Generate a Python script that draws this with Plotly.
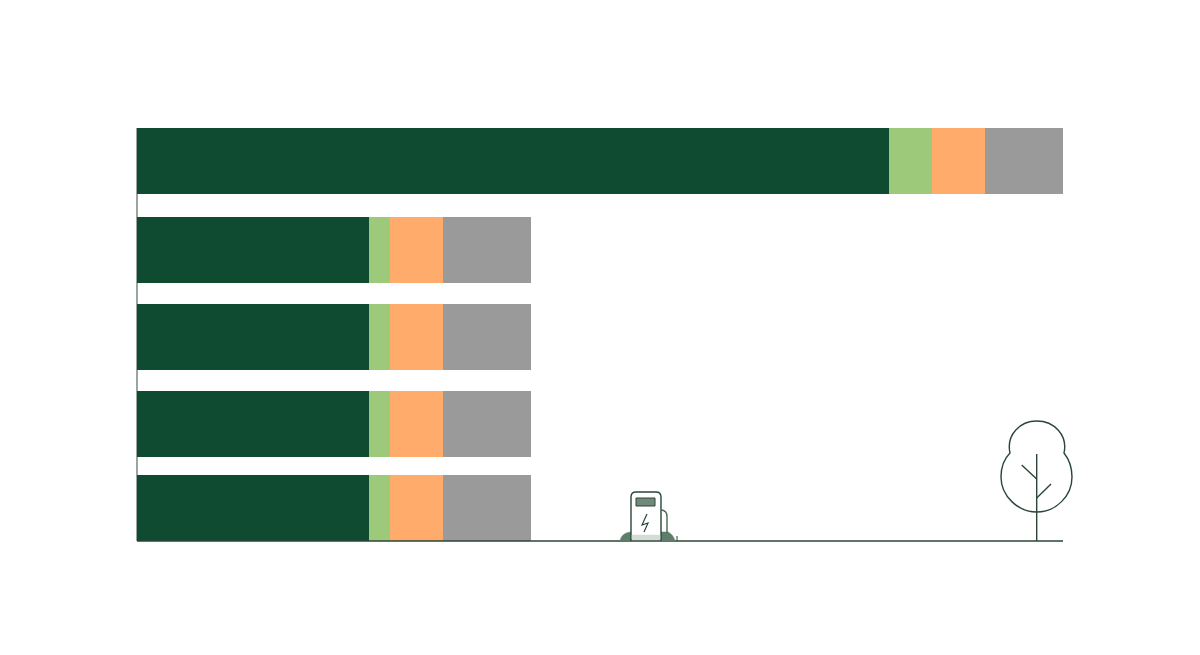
import plotly.graph_objects as go

# Data (arbitrary units, one row per bar)
row_position = [161, 250, 337, 424, 508]
dark_values = [752, 232, 232, 232, 232]
green_values = [43, 21, 21, 21, 21]
orange_values = [53, 53, 53, 53, 53]
gray_values = [78, 88, 88, 88, 88]

series = [
    ("Dark", dark_values, "#0E4B30"),
    ("Green", green_values, "#9CC97A"),
    ("Orange", orange_values, "#FFAB6B"),
    ("Gray", gray_values, "#9A9A9A"),
]

ORIGIN = 137               # page pixel of the value zero
PLOT_L, PLOT_R, T, B = 130, 1100, 100, 560
LINE = "#2A4637"


def path(cmds):
    out = []
    for c in cmds:
        if isinstance(c, str):
            out.append(c)
        else:
            out.append(f"{c[0] - ORIGIN},{c[1]}")
    return " ".join(out)


fig = go.Figure()
for name, vals, col in series:
    fig.add_trace(go.Bar(
        y=row_position, x=vals, name=name, orientation="h",
        width=66, marker=dict(color=col, line=dict(width=0)),
        showlegend=False, hoverinfo="x",
    ))

shapes = []


def add(cmds, color=LINE, width=1.5, fill=None, layer="above"):
    shapes.append(dict(
        type="path", xref="x", yref="y", path=path(cmds), layer=layer,
        line=dict(color=color, width=width),
        fillcolor=fill if fill else "rgba(0,0,0,0)",
    ))


# left axis and ground
add(["M", (137, 128), "L", (137, 541)], color="#59685F", width=1.2, layer="below")
add(["M", (137, 541), "L", (1063, 541)], color=LINE, width=1.4)

# charger: mound
add(["M", (620, 541), "C", (621, 535), (626, 532), (632, 532), "L", (668, 532),
     "C", (672, 534), (674, 537), (675, 541), "Z"], color="#5F7D6B", width=0.5, fill="#5F7D6B")
# charger: body
add(["M", (631, 540), "L", (631, 497), "C", (631, 494), (633, 492), (636, 492), "L", (656, 492),
     "C", (659, 492), (661, 494), (661, 497), "L", (661, 540), "Z"], width=1.4, fill="#FFFFFF")
add(["M", (632, 535), "L", (660, 535), "L", (660, 540), "L", (632, 540), "Z"],
    color="#D5DBD6", width=0.5, fill="#D5DBD6")
# charger: screen
add(["M", (636, 498), "L", (655, 498), "L", (655, 506), "L", (636, 506), "Z"],
    width=1.0, fill="#71897B")
# charger: bolt
add(["M", (647, 514), "L", (642, 525), "L", (648, 523), "L", (644, 532)], width=1.2)
# charger: hose
add(["M", (661, 510), "C", (665, 510), (667, 513), (667, 517), "L", (667, 533)], color="#4A6656", width=1.4)
add(["M", (677, 536), "L", (677, 541)], width=1.0)

# tree
add(["M", (1010, 453), "C", (1006, 435), (1020, 421), (1036.7, 421),
     "C", (1054, 421), (1068, 435), (1064, 453),
     "C", (1068, 458), (1072, 466), (1072, 477),
     "C", (1072, 496), (1056, 512), (1036.7, 512),
     "C", (1018, 512), (1001, 496), (1001, 477),
     "C", (1001, 466), (1005, 458), (1010, 453), "Z"], width=1.4)
add(["M", (1036.7, 454), "L", (1036.7, 541)], width=1.4)
add(["M", (1021.7, 465), "L", (1036.7, 479)], width=1.4)
add(["M", (1051, 484), "L", (1036.7, 498)], width=1.4)

fig.update_layout(
    width=1200, height=655, barmode="stack",
    margin=dict(l=PLOT_L, r=1200 - PLOT_R, t=T, b=655 - B, pad=0),
    paper_bgcolor="#FFFFFF", plot_bgcolor="rgba(0,0,0,0)",
    xaxis=dict(range=[PLOT_L - ORIGIN, PLOT_R - ORIGIN], visible=False, fixedrange=True),
    yaxis=dict(range=[B, T], visible=False, fixedrange=True),
    shapes=shapes,
)
fig.write_html("out.html", post_script="document.body.style.margin='0';", config={"displayModeBar": False})
